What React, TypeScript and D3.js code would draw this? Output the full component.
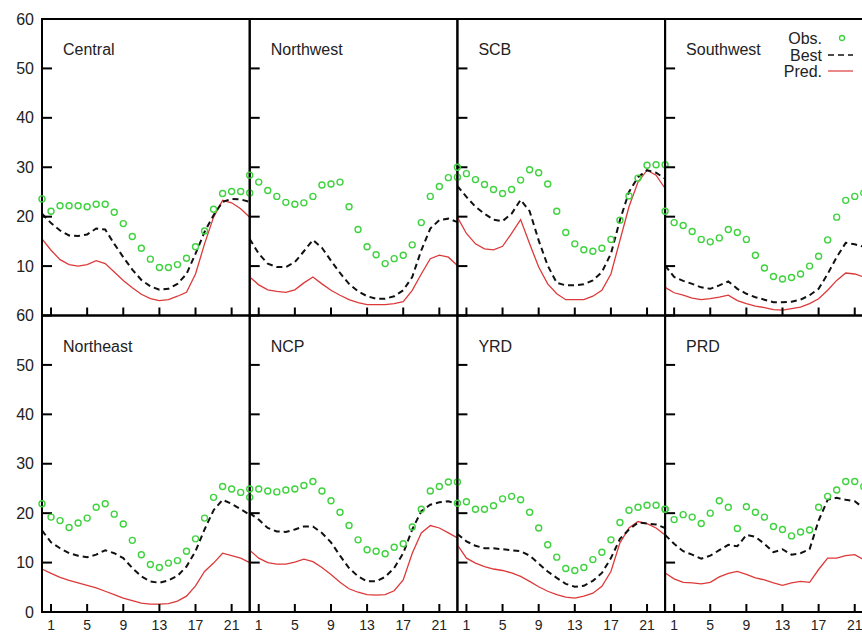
import React from "react";
import * as d3 from "d3";

// hour of day, 0..23
const hours = d3.range(0, 24);
const xTicks = [1, 5, 9, 13, 17, 21];
const yTicksTop = [10, 20, 30, 40, 50, 60];
const yTicksBottom = [0, 10, 20, 30, 40, 50, 60];

const regionNames = ["Central", "Northwest", "SCB", "Southwest", "Northeast", "NCP", "YRD", "PRD"];

const centralObs = [23.6, 21.1, 22.2, 22.2, 22.2, 22.0, 22.5, 22.5, 20.9, 18.6, 16.0, 13.6, 11.4, 9.7, 9.7, 10.3, 11.6, 13.9, 17.1, 21.5, 24.7, 25.1, 25.1, 24.8];
const centralBest = [20.6, 18.7, 17.2, 16.2, 16.1, 16.4, 17.6, 17.4, 14.5, 11.8, 9.3, 7.2, 5.9, 5.2, 5.4, 6.4, 8.4, 12.5, 16.9, 20.3, 23.0, 23.6, 23.5, 23.0];
const centralPred = [15.5, 13.2, 11.3, 10.3, 10.0, 10.3, 11.1, 10.5, 8.8, 7.1, 5.6, 4.3, 3.4, 3.0, 3.2, 3.9, 4.7, 8.4, 14.5, 19.9, 23.3, 22.8, 21.6, 19.9];

const northwestObs = [28.4, 27.0, 25.3, 24.1, 22.9, 22.5, 22.8, 24.1, 26.4, 26.6, 27.0, 22.0, 17.4, 13.9, 12.3, 10.5, 11.5, 12.2, 14.3, 18.8, 24.1, 26.1, 27.9, 28.0];
const northwestBest = [15.5, 12.5, 10.5, 9.8, 9.8, 10.8, 13.0, 15.3, 13.7, 11.1, 8.6, 6.4, 4.9, 3.9, 3.4, 3.4, 3.9, 5.1, 7.8, 13.2, 17.6, 19.3, 19.6, 18.9];
const northwestPred = [7.8, 6.2, 5.2, 4.9, 4.7, 5.2, 6.6, 7.8, 6.4, 5.1, 4.1, 3.2, 2.6, 2.2, 2.2, 2.2, 2.4, 2.8, 5.1, 8.4, 11.5, 12.2, 11.8, 10.1];

const scbObs = [30.0, 28.7, 27.5, 26.5, 25.5, 24.7, 25.5, 27.4, 29.5, 28.9, 26.6, 21.1, 16.8, 14.5, 13.3, 13.0, 13.6, 15.4, 19.3, 24.2, 27.8, 30.4, 30.5, 30.5];
const scbBest = [26.2, 24.0, 22.0, 20.6, 19.4, 19.1, 20.6, 23.4, 21.1, 15.2, 10.1, 6.6, 6.1, 6.1, 6.3, 7.1, 8.8, 12.5, 19.3, 25.0, 28.0, 29.4, 28.9, 27.7];
const scbPred = [19.9, 16.6, 14.5, 13.5, 13.3, 14.0, 16.6, 19.4, 14.5, 9.8, 6.4, 4.4, 3.2, 3.2, 3.2, 3.9, 5.1, 8.4, 15.2, 22.0, 27.0, 29.4, 28.4, 25.7];

const southwestObs = [21.1, 18.8, 18.2, 17.0, 15.4, 14.9, 15.7, 17.4, 16.8, 15.4, 12.2, 9.6, 7.9, 7.4, 7.7, 8.4, 10.0, 12.0, 15.3, 19.9, 23.3, 24.1, 24.8, 24.3];
const southwestBest = [10.1, 7.8, 7.0, 6.4, 5.7, 5.4, 6.1, 6.9, 5.4, 4.4, 3.7, 3.2, 2.7, 2.7, 2.8, 3.2, 4.1, 5.4, 8.4, 11.8, 14.7, 14.4, 13.9, 13.4];
const southwestPred = [5.7, 4.6, 4.1, 3.5, 3.2, 3.4, 3.7, 4.1, 3.0, 2.4, 1.9, 1.6, 1.2, 1.1, 1.4, 1.7, 2.4, 3.4, 5.1, 7.1, 8.6, 8.4, 7.8, 7.3];

const northeastObs = [21.9, 19.2, 18.5, 17.1, 18.0, 19.0, 21.2, 21.9, 19.8, 17.8, 14.5, 11.6, 9.6, 9.0, 9.9, 10.4, 12.3, 14.8, 19.0, 23.2, 25.4, 24.9, 24.2, 23.2];
const northeastBest = [16.5, 14.1, 12.9, 11.9, 11.4, 11.1, 11.6, 12.5, 11.9, 10.9, 8.9, 7.2, 6.2, 5.9, 6.4, 7.3, 9.2, 12.3, 16.7, 20.6, 22.7, 21.9, 20.8, 19.7];
const northeastPred = [8.7, 7.8, 7.0, 6.4, 5.9, 5.4, 4.9, 4.2, 3.5, 2.8, 2.3, 1.8, 1.6, 1.6, 1.7, 2.2, 3.2, 5.3, 8.2, 9.9, 11.9, 11.4, 10.9, 10.0];

const ncpObs = [24.9, 24.9, 24.5, 24.3, 24.7, 24.9, 25.6, 26.4, 24.5, 22.5, 20.2, 17.5, 14.6, 12.6, 12.3, 11.8, 13.1, 13.8, 17.2, 20.8, 24.5, 25.4, 26.3, 26.3];
const ncpBest = [20.0, 18.7, 17.0, 16.3, 16.2, 16.7, 17.3, 17.3, 16.0, 14.1, 11.4, 8.9, 7.2, 6.2, 6.2, 7.1, 8.9, 11.9, 16.7, 20.4, 21.7, 22.2, 22.4, 21.9];
const ncpPred = [12.5, 10.9, 10.0, 9.7, 9.7, 10.1, 10.7, 10.2, 9.0, 7.6, 6.0, 4.7, 4.0, 3.5, 3.4, 3.5, 4.3, 6.5, 11.9, 16.0, 17.5, 17.0, 16.0, 15.0];

const yrdObs = [22.0, 22.3, 20.8, 20.8, 21.5, 22.9, 23.4, 22.7, 20.2, 17.0, 13.6, 11.1, 8.8, 8.4, 9.0, 10.6, 12.1, 14.6, 18.1, 20.6, 21.2, 21.6, 21.6, 20.8];
const yrdBest = [15.8, 14.3, 13.4, 12.9, 12.9, 12.7, 12.5, 12.3, 11.4, 9.8, 8.2, 6.9, 5.7, 5.1, 5.3, 6.3, 7.9, 10.9, 14.8, 16.7, 18.1, 17.9, 17.7, 17.0];
const yrdPred = [13.6, 10.9, 9.9, 9.2, 8.7, 8.4, 7.9, 7.2, 6.2, 5.1, 4.2, 3.5, 3.0, 2.8, 3.2, 3.8, 5.2, 8.2, 14.0, 17.0, 18.3, 17.9, 17.0, 15.6];

const prdObs = [20.8, 18.7, 19.7, 19.2, 17.9, 20.0, 22.5, 21.2, 16.9, 21.3, 20.2, 19.2, 17.3, 16.7, 15.4, 16.2, 16.6, 21.2, 23.4, 24.7, 26.4, 26.4, 25.4, 24.5];
const prdBest = [15.6, 13.8, 12.3, 11.6, 10.8, 11.4, 12.5, 13.6, 13.3, 15.6, 15.2, 13.8, 12.1, 12.7, 11.6, 11.9, 12.7, 18.5, 22.7, 23.1, 22.7, 22.4, 21.0, 20.0];
const prdPred = [7.9, 6.7, 6.0, 5.9, 5.7, 6.0, 7.1, 7.8, 8.2, 7.6, 6.9, 6.5, 5.9, 5.4, 5.9, 6.2, 6.0, 8.6, 10.9, 10.9, 11.4, 11.6, 10.6, 10.0];

const obsSeries = [centralObs, northwestObs, scbObs, southwestObs, northeastObs, ncpObs, yrdObs, prdObs];
const bestSeries = [centralBest, northwestBest, scbBest, southwestBest, northeastBest, ncpBest, yrdBest, prdBest];
const predSeries = [centralPred, northwestPred, scbPred, southwestPred, northeastPred, ncpPred, yrdPred, prdPred];

const W = 862;
const H = 634;
const left = 42;
const panelW = 207.7;
const top = 19;
const panelH = 296.5;

const GREEN = "#3fd23f";
const RED = "#dc3a3a";
const FONT = "Liberation Sans, Arial, sans-serif";

export default function App() {
  const panels = regionNames.map((name, i) => {
    const col = i % 4;
    const row = Math.floor(i / 4);
    const x0 = left + col * panelW;
    const y0 = top + row * panelH;
    const x = d3.scaleLinear().domain([0, 23]).range([x0, x0 + panelW]);
    const y = d3.scaleLinear().domain([0, 60]).range([y0 + panelH, y0]);
    const line = d3.line<number>().x((_, k) => x(hours[k])).y((d) => y(d));
    return { name, i, row, col, x0, y0, x, y, line };
  });

  return (
    <svg width={W} height={H} style={{ position: "absolute", left: 0, top: 0, background: "#fff" }} fontFamily={FONT}>
      <rect x={0} y={0} width={W} height={H} fill="#fff" />
      {panels.map((p) => (
        <g key={p.name}>
          {/* data */}
          <path d={p.line(predSeries[p.i]) || ""} fill="none" stroke={RED} strokeWidth={1.3} />
          <path d={p.line(bestSeries[p.i]) || ""} fill="none" stroke="#111" strokeWidth={2} strokeDasharray="6,4" />
          {/* frame */}
          <rect x={p.x0} y={p.y0} width={panelW} height={panelH} fill="none" stroke="#000" strokeWidth={2} />
          {(p.row === 0 ? yTicksTop : yTicksBottom).map((t) => (
            <line key={t} x1={p.x0} x2={p.x0 + 10} y1={p.y(t)} y2={p.y(t)} stroke="#000" strokeWidth={2} />
          ))}
          {xTicks.map((t) => (
            <line key={t} x1={p.x(t)} x2={p.x(t)} y1={p.y0 + panelH} y2={p.y0 + panelH - 8} stroke="#000" strokeWidth={2} />
          ))}
          {obsSeries[p.i].map((v, k) => (
            <circle key={k} cx={p.x(hours[k])} cy={p.y(v)} r={3} fill="none" stroke={GREEN} strokeWidth={1.4} />
          ))}
          <text x={p.x0 + 21} y={p.y0 + 36} fontSize={16} fill="#222">
            {p.name}
          </text>
          {p.col === 0 &&
            (p.row === 0 ? yTicksTop : yTicksBottom).map((t) => (
              <text key={t} x={34} y={p.y(t)} dy="0.35em" textAnchor="end" fontSize={16} fill="#222">
                {t}
              </text>
            ))}
          {p.row === 1 &&
            xTicks.map((t) => (
              <text key={t} x={p.x(t)} y={630} textAnchor="middle" fontSize={14} fill="#222">
                {t}
              </text>
            ))}
        </g>
      ))}
      {/* legend */}
      <g fontSize={16} fill="#222">
        <text x={822} y={44} textAnchor="end">Obs.</text>
        <circle cx={842} cy={38} r={2.5} fill="none" stroke={GREEN} strokeWidth={1.3} />
        <text x={822} y={60.5} textAnchor="end">Best</text>
        <line x1={828} x2={853} y1={55} y2={55} stroke="#111" strokeWidth={1.5} strokeDasharray="6,4" />
        <text x={822} y={77} textAnchor="end">Pred.</text>
        <line x1={828} x2={853} y1={71} y2={71} stroke={RED} strokeWidth={1.2} />
      </g>
    </svg>
  );
}
